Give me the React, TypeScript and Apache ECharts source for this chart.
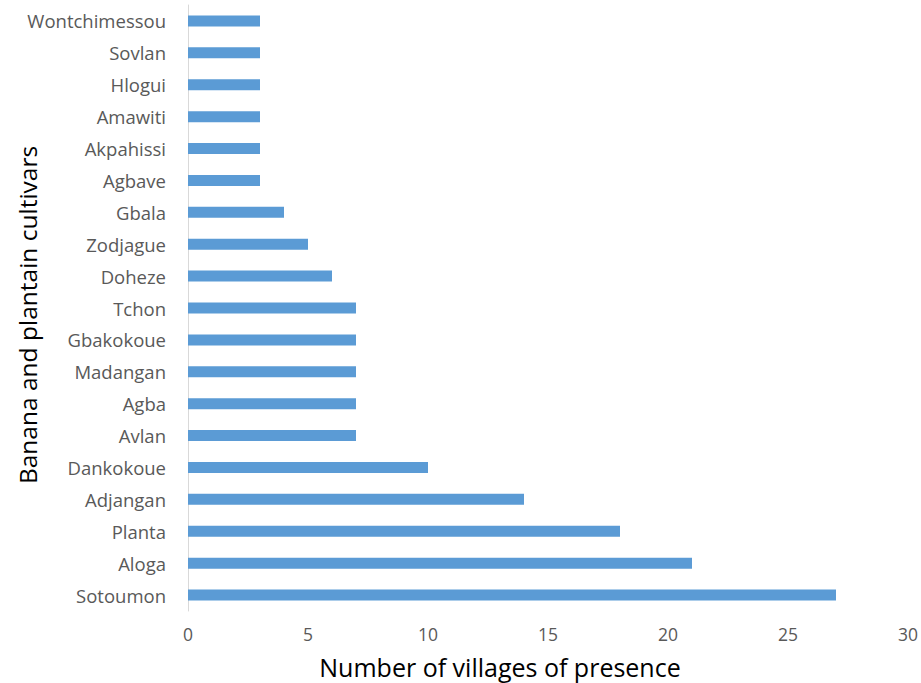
import React, { useEffect, useRef } from "react";
import * as echarts from "echarts";

const categories = [
  "Sotoumon", "Aloga", "Planta", "Adjangan", "Dankokoue", "Avlan", "Agba",
  "Madangan", "Gbakokoue", "Tchon", "Doheze", "Zodjague", "Gbala", "Agbave",
  "Akpahissi", "Amawiti", "Hlogui", "Sovlan", "Wontchimessou",
];
const villages = [27, 21, 18, 14, 10, 7, 7, 7, 7, 7, 6, 5, 4, 3, 3, 3, 3, 3, 3];
const xTicks = [0, 5, 10, 15, 20, 25, 30];
const xTitle = "Number of villages of presence";
const yTitle = "Banana and plantain cultivars";

export default function App() {
  const ref = useRef<HTMLDivElement>(null);
  useEffect(() => {
    if (!ref.current) return;
    const chart = echarts.init(ref.current, null, { renderer: "svg" });
    const font = "'Open Sans', 'Noto Sans', sans-serif";
    chart.setOption({
      animation: false,
      backgroundColor: "#ffffff",
      grid: { left: 188, right: 13, top: 5, bottom: 72, containLabel: false },
      xAxis: {
        type: "value",
        min: xTicks[0],
        max: xTicks[xTicks.length - 1],
        interval: 5,
        axisLine: { show: false },
        axisTick: { show: false },
        splitLine: { show: false },
        axisLabel: { color: "#595959", fontSize: 17.5, fontFamily: font, margin: 14 },
      },
      yAxis: {
        type: "category",
        data: categories,
        axisLine: { show: true, lineStyle: { color: "#d9d9d9", width: 1 } },
        axisTick: { show: false },
        axisLabel: { color: "#595959", fontSize: 18.5, fontFamily: font, margin: 22 },
      },
      series: [
        {
          type: "bar",
          data: villages,
          barWidth: 11,
          itemStyle: { color: "#5b9bd5" },
        },
      ],
      graphic: [
        {
          type: "text",
          x: 500,
          y: 667,
          style: {
            text: xTitle,
            fontSize: 25,
            fontFamily: font,
            fill: "#000000",
            textAlign: "center",
            textVerticalAlign: "middle",
          },
        },
        {
          type: "text",
          x: 27,
          y: 315,
          rotation: Math.PI / 2,
          style: {
            text: yTitle,
            fontSize: 24.5,
            fontFamily: font,
            fill: "#000000",
            textAlign: "center",
            textVerticalAlign: "middle",
          },
        },
      ],
    });
    return () => chart.dispose();
  }, []);
  return (
    <div
      ref={ref}
      style={{ position: "fixed", left: 0, top: 0, width: 921, height: 683 }}
    />
  );
}
